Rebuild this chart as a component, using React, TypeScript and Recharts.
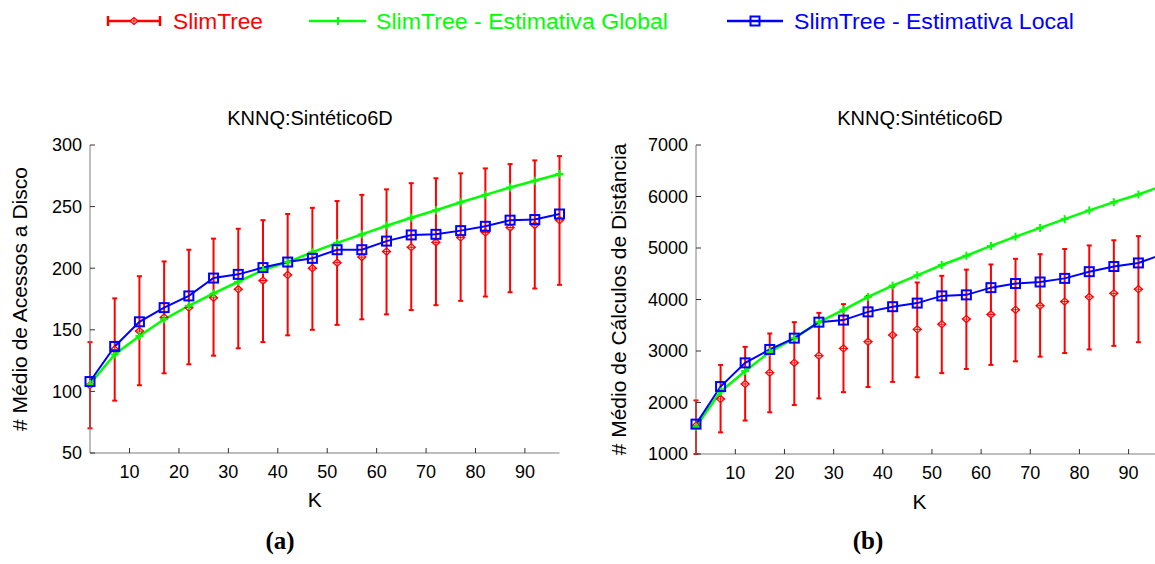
import React from "react";
import { LineChart, Line, XAxis, YAxis, ErrorBar, Label } from "recharts";

// K values (x axis) shared by both panels
const kValues = [2, 7, 12, 17, 22, 27, 32, 37, 42, 47, 52, 57, 62, 67, 72, 77, 82, 87, 92, 97];
const kTicks = [10, 20, 30, 40, 50, 60, 70, 80, 90];

// (a) disk accesses
const diskTicks = [50, 100, 150, 200, 250, 300];
const diskMean = [105, 134, 149, 160, 168, 176, 183, 190, 194.5, 200, 204.5, 209, 213.5, 217, 221, 225, 229, 233, 235, 239];
const diskLow = [70, 92.5, 105, 114.7, 122, 129, 135, 140, 145.5, 150, 154, 158.5, 162.5, 166, 170, 173.5, 177, 180.5, 183.5, 186.5];
const diskHigh = [140, 175.5, 193.5, 205.5, 215, 224, 232, 239, 244, 249, 254.5, 259.5, 264, 269, 273, 277, 281, 284.5, 287.5, 291];
const diskGlobal = [106, 130, 145, 158.5, 169.5, 179.5, 189, 198.5, 205, 213, 220.5, 227.5, 234.5, 241, 247, 253.5, 259.5, 265.5, 271, 276.5];
const diskLocal = [108, 136.5, 156.5, 168, 177.5, 192, 195, 200.5, 205, 208, 215, 215, 222, 227, 227.5, 230.5, 234, 239, 239.5, 244];

// (b) distance calculations
const distTicks = [1000, 2000, 3000, 4000, 5000, 6000, 7000];
const distMean = [1550, 2070, 2360, 2580, 2770, 2910, 3050, 3180, 3310, 3420, 3520, 3620, 3710, 3800, 3880, 3960, 4050, 4120, 4200, 4280];
const distLow = [1000, 1420, 1650, 1810, 1950, 2080, 2200, 2300, 2400, 2490, 2570, 2650, 2730, 2800, 2890, 2960, 3030, 3100, 3170, 3230];
const distHigh = [2040, 2730, 3080, 3340, 3560, 3740, 3910, 4070, 4250, 4330, 4460, 4580, 4680, 4790, 4880, 4980, 5050, 5150, 5230, 5310];
const distGlobal = [1530, 2210, 2610, 2980, 3250, 3560, 3800, 4050, 4270, 4470, 4670, 4850, 5040, 5220, 5390, 5560, 5730, 5890, 6040, 6210];
const distLocal = [1580, 2310, 2770, 3030, 3250, 3560, 3600, 3760, 3860, 3930, 4070, 4090, 4230, 4310, 4340, 4410, 4540, 4640, 4710, 4880];

const RED = "#ff0000";
const GREEN = "#00ff00";
const BLUE = "#0000ff";
const AXIS = "#7c7c7c";
const FONT = "'Liberation Sans', Arial, sans-serif";

const buildRows = (mean: number[], low: number[], high: number[], glob: number[], local: number[]) =>
  kValues.map((k, i) => ({
    k,
    mean: mean[i],
    err: [mean[i] - low[i], high[i] - mean[i]],
    global: glob[i],
    local: local[i],
  }));

const diskRows = buildRows(diskMean, diskLow, diskHigh, diskGlobal, diskLocal);
const distRows = buildRows(distMean, distLow, distHigh, distGlobal, distLocal);

const DiamondDot = (props: any) => {
  const { cx, cy } = props;
  if (cx == null || cy == null) return null;
  return (
    <g>
      <path
        d={`M${cx - 4},${cy} L${cx},${cy - 3.5} L${cx + 4},${cy} L${cx},${cy + 3.5} Z`}
        fill="#fff"
        stroke={RED}
        strokeWidth={1.3}
      />
      <line x1={cx - 4} y1={cy} x2={cx + 4} y2={cy} stroke={RED} strokeWidth={1} />
      <line x1={cx} y1={cy - 3.5} x2={cx} y2={cy + 3.5} stroke={RED} strokeWidth={1} />
    </g>
  );
};

const PlusDot = (props: any) => {
  const { cx, cy } = props;
  if (cx == null || cy == null) return null;
  return (
    <g stroke={GREEN} strokeWidth={2}>
      <line x1={cx - 4} y1={cy} x2={cx + 4} y2={cy} />
      <line x1={cx} y1={cy - 4} x2={cx} y2={cy + 4} />
    </g>
  );
};

const SquareDot = (props: any) => {
  const { cx, cy } = props;
  if (cx == null || cy == null) return null;
  return <rect x={cx - 4.5} y={cy - 4.5} width={9} height={9} fill="none" stroke={BLUE} strokeWidth={2} />;
};

// ticks point into the plot, labels sit outside
const LeftTick = ({ x, y, payload }: any) => (
  <g>
    <line x1={x + 8} y1={y} x2={x + 13} y2={y} stroke="#333" />
    <text x={x} y={y} dy="0.355em" textAnchor="end" fontSize={18} fontFamily={FONT} fill="#000">
      {payload.value}
    </text>
  </g>
);

const BottomTick = ({ x, y, payload }: any) => (
  <g>
    <line x1={x} y1={y - 12} x2={x} y2={y - 17} stroke="#333" />
    <text x={x} y={y} dy="0.71em" textAnchor="middle" fontSize={18} fontFamily={FONT} fill="#000">
      {payload.value}
    </text>
  </g>
);

const TopTick = ({ x, y }: any) => <line x1={x} y1={y} x2={x} y2={y + 5} stroke="#333" />;
const RightTick = ({ x, y }: any) => <line x1={x} y1={y} x2={x - 5} y2={y} stroke="#333" />;

interface PanelProps {
  rows: any[];
  yTicks: number[];
  yLabel: string;
  width: number;
  marginRight: number;
  marginBottom: number;
  xAxisHeight: number;
  labelOffset: number;
}

const Panel = ({ rows, yTicks, yLabel, width, marginRight, marginBottom, xAxisHeight, labelOffset }: PanelProps) => {
  const domain = [yTicks[0], yTicks[yTicks.length - 1]];
  return (
    <LineChart
      width={width}
      height={420}
      data={rows}
      margin={{ top: 45, right: marginRight, bottom: marginBottom, left: 0 }}
    >
      <XAxis
        dataKey="k"
        type="number"
        domain={[2, 97]}
        ticks={kTicks}
        interval={0}
        height={xAxisHeight}
        tickSize={0}
        tickMargin={12}
        tickLine={false}
        tick={BottomTick}
        axisLine={{ stroke: AXIS }}
      >
        <Label value="K" position="insideBottom" offset={-3} dx={-10} fontSize={21} fill="#000" style={{ fontFamily: FONT }} />
      </XAxis>
      <XAxis
        xAxisId="top"
        orientation="top"
        dataKey="k"
        type="number"
        domain={[2, 97]}
        ticks={kTicks}
        interval={0}
        height={0}
        tickSize={0}
        tickMargin={0}
        tickLine={false}
        tick={TopTick}
        axisLine={{ stroke: AXIS }}
      />
      <YAxis
        type="number"
        domain={domain}
        ticks={yTicks}
        interval={0}
        width={90}
        tickSize={0}
        tickMargin={8}
        tickLine={false}
        tick={LeftTick}
        axisLine={{ stroke: AXIS }}
      >
        <Label
          value={yLabel}
          angle={-90}
          position="insideLeft"
          offset={labelOffset}
          fontSize={21}
          fill="#000"
          style={{ textAnchor: "middle", fontFamily: FONT }}
        />
      </YAxis>
      <YAxis
        yAxisId="right"
        orientation="right"
        type="number"
        domain={domain}
        ticks={yTicks}
        interval={0}
        width={0}
        tickSize={0}
        tickMargin={0}
        tickLine={false}
        tick={RightTick}
        axisLine={{ stroke: AXIS }}
      />
      <Line dataKey="mean" stroke="none" dot={<DiamondDot />} activeDot={false} isAnimationActive={false}>
        <ErrorBar dataKey="err" direction="y" width={2.5} stroke={RED} strokeWidth={2} isAnimationActive={false} />
      </Line>
      <Line
        dataKey="global"
        stroke={GREEN}
        strokeWidth={2.5}
        dot={<PlusDot />}
        activeDot={false}
        isAnimationActive={false}
      />
      <Line
        dataKey="local"
        stroke={BLUE}
        strokeWidth={2}
        dot={<SquareDot />}
        activeDot={false}
        isAnimationActive={false}
      />
    </LineChart>
  );
};

const Overlay = () => (
  <svg width={1155} height={564} style={{ position: "absolute", left: 0, top: 0, pointerEvents: "none" }}>
    {/* legend */}
    <g stroke={RED} strokeWidth={2.5}>
      <line x1={107} y1={21} x2={161} y2={21} />
      <line x1={108} y1={16} x2={108} y2={26} />
      <line x1={160} y1={16} x2={160} y2={26} />
    </g>
    <DiamondDot cx={134} cy={21} />
    <text x={173} y={29} fontSize={22} fontFamily={FONT} fill={RED} textLength={90} lengthAdjust="spacingAndGlyphs">
      SlimTree
    </text>
    <line x1={309} y1={21} x2={366} y2={21} stroke={GREEN} strokeWidth={2.5} />
    <PlusDot cx={338} cy={21} />
    <text x={376} y={29} fontSize={22} fontFamily={FONT} fill={GREEN} textLength={292} lengthAdjust="spacingAndGlyphs">
      SlimTree - Estimativa Global
    </text>
    <line x1={727} y1={21} x2={783} y2={21} stroke={BLUE} strokeWidth={2.5} />
    <SquareDot cx={755} cy={21} />
    <text x={794} y={29} fontSize={22} fontFamily={FONT} fill={BLUE} textLength={280} lengthAdjust="spacingAndGlyphs">
      SlimTree - Estimativa Local
    </text>

    {/* panel titles */}
    <text x={310} y={125} fontSize={20} fontFamily={FONT} textAnchor="middle" fill="#000">
      KNNQ:Sintético6D
    </text>
    <text x={920} y={125} fontSize={20} fontFamily={FONT} textAnchor="middle" fill="#000">
      KNNQ:Sintético6D
    </text>

    {/* captions */}
    <text x={280} y={549} fontSize={25} fontWeight="bold" fontFamily="'Liberation Serif', 'Times New Roman', serif" textAnchor="middle" fill="#000">
      (a)
    </text>
    <text x={868} y={549} fontSize={25} fontWeight="bold" fontFamily="'Liberation Serif', 'Times New Roman', serif" textAnchor="middle" fill="#000">
      (b)
    </text>
  </svg>
);

export default function App() {
  return (
    <div
      style={{
        position: "fixed",
        left: 0,
        top: 0,
        width: 1155,
        height: 564,
        overflow: "hidden",
        background: "#fff",
        fontFamily: FONT,
      }}
    >
      <Overlay />
      <div style={{ position: "absolute", left: 0, top: 100 }}>
        <Panel
          rows={diskRows}
          yTicks={diskTicks}
          yLabel="# Médio de Acessos a Disco"
          width={580}
          marginRight={20.5}
          marginBottom={16}
          xAxisHeight={51}
          labelOffset={20}
        />
      </div>
      <div style={{ position: "absolute", left: 606, top: 100 }}>
        <Panel
          rows={distRows}
          yTicks={distTicks}
          yLabel="# Médio de Cálculos de Distância"
          width={577}
          marginRight={20}
          marginBottom={14}
          xAxisHeight={52}
          labelOffset={13}
        />
      </div>
    </div>
  );
}
